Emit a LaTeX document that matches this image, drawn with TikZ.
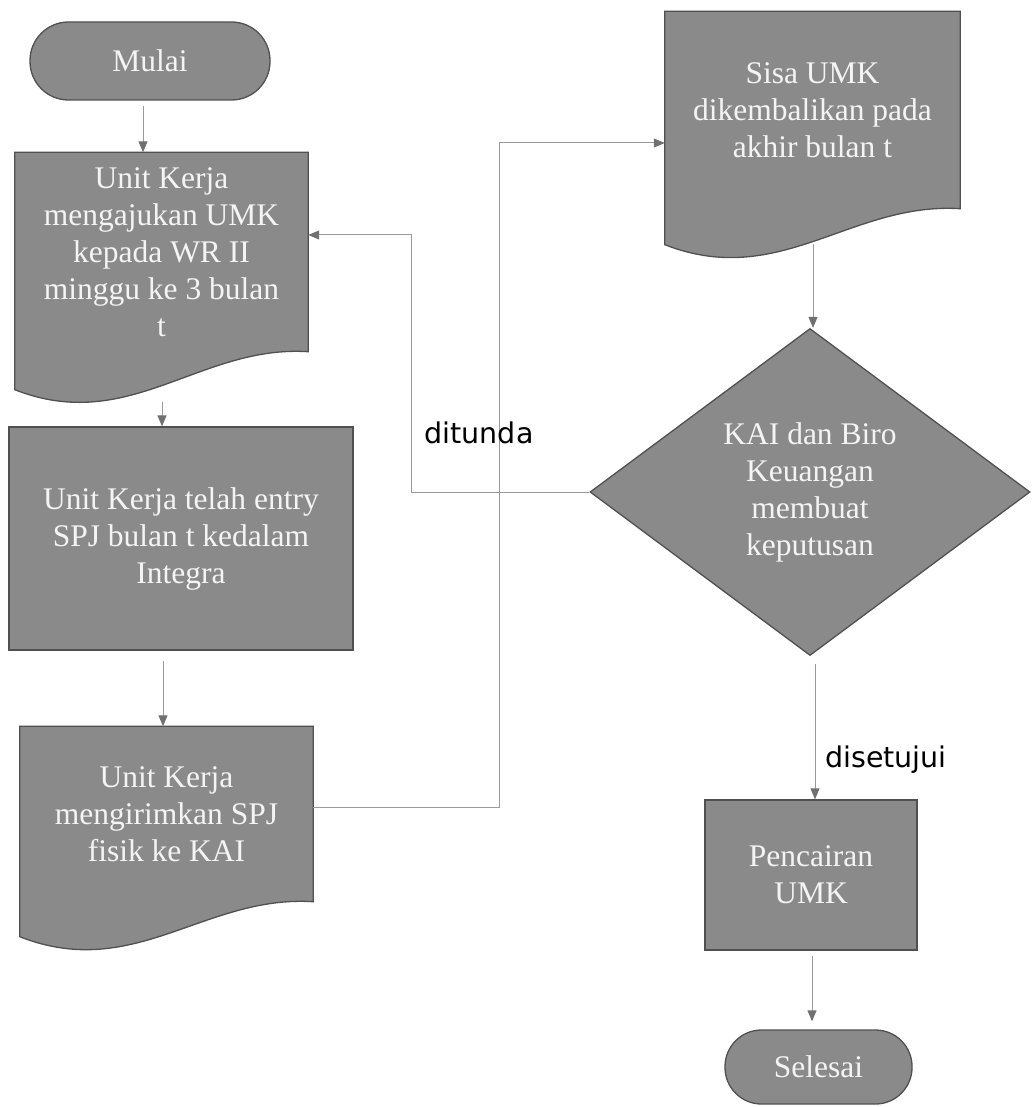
\documentclass[tikz,border=0pt]{standalone}
\usepackage{fontspec}
\setmainfont{Liberation Serif}
\newfontfamily\labelfamily{DejaVu Sans}
\usetikzlibrary{calc,arrows.meta,shapes.geometric,backgrounds}

\definecolor{boxgray}{HTML}{8A8A8A}
\definecolor{edgegray}{HTML}{505050}
\definecolor{linegray}{HTML}{9A9A9A}
\definecolor{tipgray}{HTML}{707070}
\definecolor{boxtextcol}{HTML}{F4F4F4}

\newcommand\boxfnt{\fontsize{31.5}{37}\selectfont}
\newcommand\lblfnt{\labelfamily\fontsize{28.5}{34}\selectfont}

% wavy-bottomed document outline around a text node:
% #1 node, #2 how far the left bottom corner drops below the right one
\newcommand\docoutline[2]{%
  \path[shapefill] (#1.north west) -- (#1.north east) -- (#1.south east)
    .. controls ($(#1.south west)!0.63!(#1.south east)+(0,-7)$)
            and ($(#1.south west)!0.39!(#1.south east)+(0,#2+45)$)
    .. ($(#1.south west)+(0,#2)$) -- cycle;}

\tikzset{
  shapefill/.style={fill=boxgray, draw=edgegray, line width=1.3pt},
  boxtext/.style={text=boxtextcol, font=\boxfnt, align=center, inner sep=0pt},
  terminal/.style={boxtext, shapefill},
  procbox/.style={boxtext, shapefill},
  docbox/.style={boxtext},
  decision/.style={boxtext, shapefill, diamond, aspect=1.35,
    minimum width=440pt, minimum height=327pt},
  conn/.style={draw=linegray, line width=1pt,
    -{Triangle[length=11pt,width=9pt,color=tipgray,fill=tipgray]}},
  flowlabel/.style={font=\lblfnt, text=black, inner sep=0pt},
}

\begin{document}
\begin{tikzpicture}[x=1pt, y=-1pt]
  \useasboundingbox (0,0) rectangle (1031,1107);

  % left column
  \node[terminal, rounded corners=38.5pt, minimum width=240pt, minimum height=78pt]
    (mulai) at (150,61) {Mulai};
  \node[docbox, minimum width=293pt, minimum height=199pt] (d1) at (161.5,252)
    {Unit Kerja\\mengajukan UMK\\kepada WR II\\minggu ke 3 bulan\\t};
  \node[procbox, minimum width=344pt, minimum height=223pt] (r2) at (181,538.5)
    {Unit Kerja telah entry\\SPJ bulan t kedalam\\Integra};
  \node[docbox, minimum width=293pt, minimum height=175pt] (d3) at (166.5,814)
    {Unit Kerja\\mengirimkan SPJ\\fisik ke KAI};

  % right column
  \node[docbox, minimum width=295pt, minimum height=197pt] (sisa) at (812.5,110)
    {Sisa UMK\\dikembalikan pada\\akhir bulan t};
  \node[decision] (kai) at (810,492)
    {KAI dan Biro\\Keuangan\\membuat\\keputusan};
  \node[procbox, minimum width=212pt, minimum height=150pt] (cair) at (811,875)
    {Pencairan\\UMK};
  \node[terminal, rounded corners=36.5pt, minimum width=187pt, minimum height=74pt]
    (selesai) at (818.5,1067) {Selesai};

  % document outlines behind their texts
  \begin{scope}[on background layer]
    \docoutline{d1}{38}
    \docoutline{d3}{35}
    \docoutline{sisa}{36}
  \end{scope}

  % connectors
  \coordinate (a1) at ($(mulai.south)+(-7,5)$);
  \draw[conn] (a1) -- (a1 |- d1.north);

  \coordinate (a2) at ($(d1.south)+(0.5,50)$);
  \draw[conn] (a2) -- (a2 |- r2.north);

  \coordinate (a3) at ($(r2.south)+(-18,10)$);
  \draw[conn] (a3) -- (a3 |- d3.north);

  \coordinate (a4) at ($(d3.east)+(186,-7)$);
  \draw[conn] (d3.east |- a4) -- (a4) |- ($(sisa.west)+(0,33)$);

  \coordinate (a5) at ($(sisa.south)+(0.5,35)$);
  \draw[conn] (a5) -- (a5 |- kai.north);

  \coordinate (a6) at ($(kai.west)+(-178,0)$);
  \draw[conn] (kai.west) -- (a6) |- ($(d1.east)+(0,-17)$);

  \coordinate (a7) at ($(kai.south)+(5,8)$);
  \draw[conn] (a7) -- (a7 |- cair.north);

  \coordinate (a8) at ($(cair.south)+(1,5)$);
  \draw[conn, shorten >=8pt] (a8) -- (a8 |- selesai.north);

  % branch labels
  \node[flowlabel] (ditunda) at (479,433) {ditunda};
  \node[flowlabel] (disetujui) at (886,760) {disetujui};
\end{tikzpicture}
\end{document}
